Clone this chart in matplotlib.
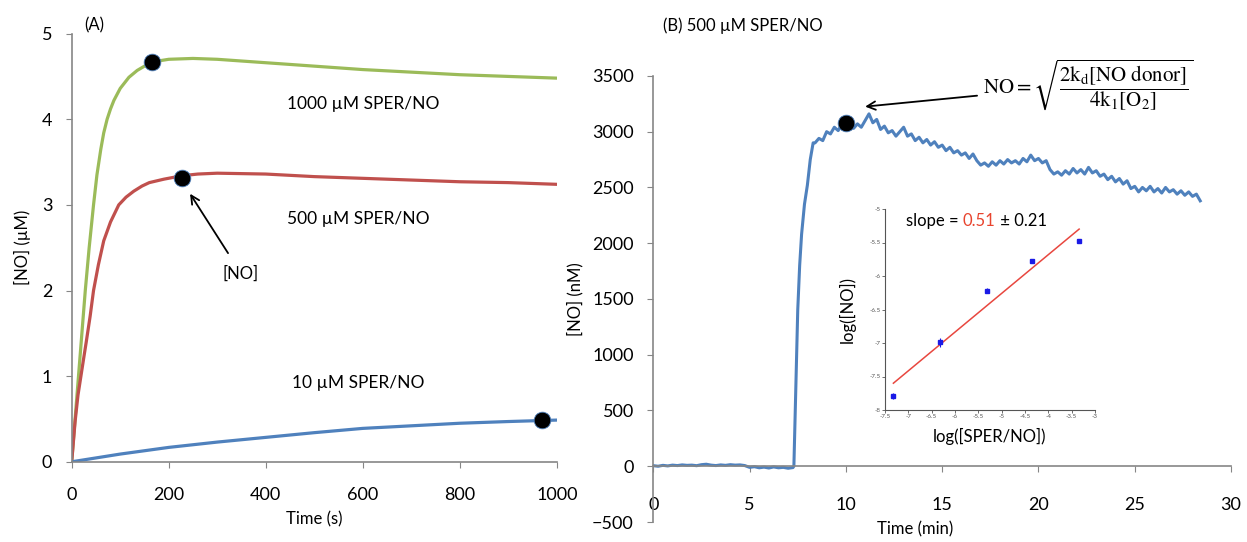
import numpy as np
import matplotlib
matplotlib.use("Agg")
import matplotlib.pyplot as plt

plt.rcParams['font.family'] = ['Lato', 'Open Sans', 'DejaVu Sans']
plt.rcParams['mathtext.fontset'] = 'stix'

# ---------------- Panel A data ----------------
t_1000 = [0, 7, 14, 21, 28, 36, 45, 52, 60, 66, 73, 80, 87, 100, 118, 135, 150, 167, 200, 250, 300,
          400, 500, 600, 700, 800, 900, 1000]
no_1000 = [0, 0.5, 1.0, 1.5, 2.0, 2.5, 3.0, 3.35, 3.65, 3.84, 4.0, 4.12, 4.22, 4.36, 4.49, 4.57, 4.62,
           4.67, 4.70, 4.71, 4.70, 4.66, 4.62, 4.58, 4.55, 4.52, 4.50, 4.48]

t_500 = [0, 7, 13, 19, 25, 30, 38, 45, 55, 66, 80, 97, 112, 128, 145, 160, 190, 227, 260, 300,
         400, 500, 600, 700, 800, 900, 1000]
no_500 = [0, 0.47, 0.78, 1.0, 1.22, 1.4, 1.7, 2.0, 2.3, 2.58, 2.8, 3.0, 3.09, 3.16, 3.22, 3.26,
          3.3, 3.34, 3.36, 3.37, 3.36, 3.33, 3.31, 3.29, 3.27, 3.26, 3.24]

t_10 = [0, 100, 200, 300, 400, 500, 600, 700, 800, 900, 1000]
no_10 = [0, 0.09, 0.168, 0.23, 0.285, 0.34, 0.39, 0.42, 0.45, 0.47, 0.487]

dots_A_t = [165, 227, 970]
dots_A_no = [4.67, 3.31, 0.49]

labels_A = ["1000 \u00b5M SPER/NO", "500 \u00b5M SPER/NO", "10 \u00b5M SPER/NO"]

# ---------------- Panel B data ----------------
base_t = [0, 0.25, 0.5, 0.75, 1.0, 1.25, 1.5, 1.75, 2.0, 2.25, 2.5, 2.75, 3.0, 3.25, 3.5, 3.75,
          4.0, 4.25, 4.5, 4.75, 5.0, 5.25, 5.5, 5.75, 6.0, 6.25, 6.5, 6.75, 7.0, 7.25]
base_no = [5, 0, 8, 3, 10, 6, 12, 8, 10, 5, 14, 18, 10, 6, 12, 8,
           14, 10, 12, 6, -10, -4, -14, -8, -16, -6, -14, -10, -18, -12]
rise_t = [7.3, 7.4, 7.5, 7.6, 7.7, 7.85, 8.0, 8.15, 8.3]
rise_no = [0, 700, 1400, 1800, 2080, 2350, 2520, 2750, 2900]
decay_t0 = 8.4
decay_dt = 0.2
decay_no = [2900, 2940, 2920, 3000, 2980, 3040, 3010, 3070, 3050, 3090,
            3030, 3070, 3040, 3100, 3160, 3080, 3110, 3020, 3050, 2990,
            3010, 2960, 3000, 3040, 2960, 2980, 2920, 2950, 2900, 2930,
            2880, 2910, 2860, 2880, 2830, 2860, 2810, 2830, 2790, 2810,
            2760, 2800, 2740, 2700, 2720, 2690, 2730, 2700, 2740, 2710,
            2750, 2720, 2740, 2710, 2760, 2730, 2790, 2740, 2760, 2720,
            2740, 2660, 2620, 2640, 2610, 2650, 2620, 2670, 2630, 2660,
            2620, 2680, 2630, 2650, 2600, 2620, 2570, 2600, 2550, 2580,
            2530, 2560, 2490, 2510, 2460, 2500, 2470, 2510, 2460, 2490,
            2450, 2500, 2460, 2480, 2440, 2470, 2430, 2460, 2420, 2440, 2380]
dot_B_t = [10.0]
dot_B_no = [3075]

# ---------------- Inset data ----------------
log_sper = [-7.32, -6.32, -5.32, -4.34, -3.34]
log_no = [-7.79, -6.99, -6.22, -5.78, -5.48]
log_no_err = [0.04, 0.07, 0.04, 0.03, 0.03]
fit_x = [-7.32, -3.34]
fit_y = [-7.60, -5.30]

GREEN = '#9BBB59'
RED = '#C0504D'
BLUE = '#4F81BD'
SPINE = '#868686'

fig = plt.figure(figsize=(12.47, 5.42), dpi=100)

# ---------------- Panel A ----------------
axA = fig.add_axes([0.0575, 0.148, 0.389, 0.790])
axA.plot(t_1000, no_1000, color=GREEN, lw=2.3, solid_capstyle='round', solid_joinstyle='round')
axA.plot(t_500, no_500, color=RED, lw=2.3, solid_capstyle='round', solid_joinstyle='round')
axA.plot(t_10, no_10, color=BLUE, lw=2.3, solid_capstyle='round', solid_joinstyle='round')
axA.plot(dots_A_t, dots_A_no, 'o', color='black', ms=12, mec=BLUE, mew=0.6, zorder=5)
axA.set_xlim(0, 1000)
axA.set_ylim(0, 5)
axA.set_xticks(range(0, 1001, 200))
axA.set_yticks(range(0, 6))
for s in ['top', 'right']:
    axA.spines[s].set_visible(False)
for s in ['left', 'bottom']:
    axA.spines[s].set_color(SPINE)
    axA.spines[s].set_linewidth(1.2)
axA.tick_params(axis='x', direction='out', length=4, pad=14, labelsize=13, color=SPINE)
axA.tick_params(axis='y', direction='out', length=4, pad=10, labelsize=13, color=SPINE)
axA.set_xlabel('Time (s)', fontsize=12, labelpad=6)
axA.set_ylabel('[NO] (\u00b5M)', fontsize=12, labelpad=8)
axA.text(0.025, 1.02, '(A)', transform=axA.transAxes, fontsize=12, ha='left', va='center')
axA.text(600, 4.18, labels_A[0], fontsize=12.5, ha='center', va='center')
axA.text(590, 2.84, labels_A[1], fontsize=12.5, ha='center', va='center')
axA.text(590, 0.92, labels_A[2], fontsize=12.5, ha='center', va='center')
axA.annotate('[NO]', xy=(244, 3.13), xytext=(349, 2.2), fontsize=12, ha='center', va='center',
             arrowprops=dict(arrowstyle='->', color='black', lw=1.3, shrinkA=8, shrinkB=0,
                             mutation_scale=15))

# ---------------- Panel B ----------------
axB = fig.add_axes([0.5239, 0.0369, 0.4633, 0.823])
decay_t = [decay_t0 + decay_dt * i for i in range(len(decay_no))]
tB = base_t + rise_t + decay_t
noB = base_no + rise_no + decay_no
axB.plot(tB, noB, color=BLUE, lw=2.2)
axB.plot(dot_B_t, dot_B_no, 'o', color='black', ms=12, mec=BLUE, mew=0.6, zorder=5)
axB.set_xlim(0, 30)
axB.set_ylim(-500, 3500)
axB.set_xticks(range(0, 31, 5))
axB.set_yticks(range(-500, 3501, 500))
for s in ['top', 'right']:
    axB.spines[s].set_visible(False)
for s in ['left', 'bottom']:
    axB.spines[s].set_color(SPINE)
    axB.spines[s].set_linewidth(1.2)
axB.spines['bottom'].set_position(('data', 0))
axB.tick_params(axis='x', direction='out', length=4, pad=18, labelsize=13, color=SPINE)
axB.tick_params(axis='y', direction='out', length=4, pad=10, labelsize=13, color=SPINE)
axB.set_ylabel('[NO] (nM)', fontsize=12, labelpad=6)
axB.text(13.6, -570, 'Time (min)', fontsize=12, ha='center', va='center')
axB.text(0.5, 3950, '(B) 500 \u00b5M SPER/NO', fontsize=12, ha='left', va='center')
formula = r'$\mathrm{NO} = \sqrt{\dfrac{2\mathrm{k_d}[\mathrm{NO\ donor}]}{4\mathrm{k_1}[\mathrm{O_2}]}}$'
axB.annotate(formula, xy=(11.0, 3225), xytext=(17.1, 3420), fontsize=15, ha='left', va='center',
             arrowprops=dict(arrowstyle='->', color='black', lw=1.3, shrinkA=2, shrinkB=0,
                             mutation_scale=15))

# ---------------- Inset ----------------
axI = fig.add_axes([885 / 1247, (542 - 410) / 542, 210 / 1247, 201 / 542])
axI.plot(fit_x, fit_y, color='#E8473F', lw=1.1)
axI.errorbar(log_sper, log_no, yerr=log_no_err, fmt='s', color='#1A1AE6', ms=2.5,
             elinewidth=0.8, capsize=0)
axI.set_xlim(-7.5, -3)
axI.set_ylim(-8, -5)
axI.set_xticks(np.arange(-7.5, -2.99, 0.5))
axI.set_yticks(np.arange(-8, -4.99, 0.5))
axI.set_xticklabels(['-7.5', '-7', '-6.5', '-6', '-5.5', '-5', '-4.5', '-4', '-3.5', '-3'])
axI.set_yticklabels(['-8', '-7.5', '-7', '-6.5', '-6', '-5.5', '-5'])
for s in ['top', 'right']:
    axI.spines[s].set_visible(False)
for s in ['left', 'bottom']:
    axI.spines[s].set_color('#555555')
    axI.spines[s].set_linewidth(0.8)
axI.tick_params(axis='both', direction='out', length=2, pad=1, labelsize=4.5, colors='#555555',
                width=0.6)
axI.set_ylabel('log([NO])', fontsize=12, labelpad=10)
axI.set_xlabel('log([SPER/NO])', fontsize=12, labelpad=6)
t1 = axI.text(0.1, 0.94, 'slope = ', transform=axI.transAxes, fontsize=12, ha='left', va='center')
t2 = axI.annotate('0.51', xy=(1, 0), xycoords=t1, fontsize=12, ha='left', va='bottom', color='#E8442E')
axI.annotate(' \u00b1 0.21', xy=(1, 0), xycoords=t2, fontsize=12, ha='left', va='bottom', color='black')

fig.savefig('out.png', dpi=100)
